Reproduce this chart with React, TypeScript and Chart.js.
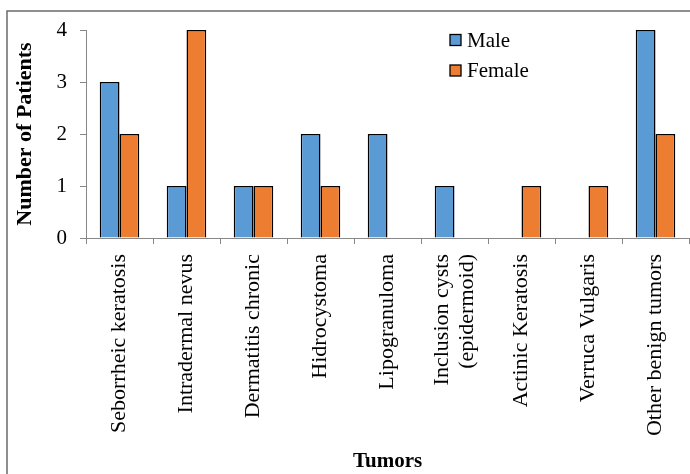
import React, { useEffect, useRef } from "react";
import { Chart, registerables } from "chart.js";

Chart.register(...registerables);

const categories: (string | string[])[] = [
  "Seborrheic keratosis",
  "Intradermal nevus",
  "Dermatitis chronic",
  "Hidrocystoma",
  "Lipogranuloma",
  ["Inclusion cysts", "(epidermoid)"],
  "Actinic Keratosis",
  "Verruca Vulgaris",
  "Other benign tumors",
];
const maleValues = [3, 1, 1, 2, 2, 1, 0, 0, 4];
const femaleValues = [2, 4, 1, 1, 0, 0, 1, 1, 2];
const seriesNames = ["Male", "Female"];
const yTicks = [0, 1, 2, 3, 4];

const FONT = "'Liberation Serif', 'Times New Roman', serif";
const BLUE = "#5B9BD5";
const ORANGE = "#ED7D31";
const TICK_LINE_HEIGHT = 1.15;
const TICK_SIZE = 22;

const framePlugin = {
  id: "frame",
  beforeDraw(chart: any) {
    const ctx = chart.ctx;
    ctx.save();
    ctx.strokeStyle = "#6b6b6b";
    ctx.lineWidth = 1.5;
    ctx.beginPath();
    ctx.moveTo(7, chart.height + 5);
    ctx.lineTo(7, 11);
    ctx.lineTo(chart.width + 5, 11);
    ctx.stroke();
    ctx.restore();
  },
};

// center multi-line rotated labels on their tick
const centerMultilinePlugin = {
  id: "centerMultiline",
  beforeDraw(chart: any) {
    const xs = chart.scales.x;
    const items = xs.getLabelItems(chart.chartArea);
    items.forEach((it: any) => {
      if (Array.isArray(it.label) && it.label.length > 1 && !it._shifted) {
        const lh = TICK_SIZE * TICK_LINE_HEIGHT;
        it.options.translation[0] -= ((it.label.length - 1) * lh) / 2;
        it._shifted = true;
      }
    });
  },
};

const legendPlugin = {
  id: "customLegend",
  afterDraw(chart: any) {
    const ctx = chart.ctx;
    ctx.save();
    const x = 450;
    const ys = [40, 70.5];
    chart.data.datasets.forEach((ds: any, i: number) => {
      const y = ys[i];
      ctx.fillStyle = ds.backgroundColor;
      ctx.fillRect(x, y - 5.5, 11, 11);
      ctx.strokeStyle = "#000";
      ctx.lineWidth = 1.3;
      ctx.strokeRect(x, y - 5.5, 11, 11);
      ctx.fillStyle = "#000";
      ctx.font = `21px ${FONT}`;
      ctx.textBaseline = "middle";
      ctx.textAlign = "left";
      ctx.fillText(ds.label, x + 17, y + 1);
    });
    ctx.restore();
  },
};

export default function App() {
  const ref = useRef<HTMLCanvasElement | null>(null);
  useEffect(() => {
    if (!ref.current) return;
    const chart = new Chart(ref.current, {
      type: "bar",
      data: {
        labels: categories,
        datasets: [
          {
            label: seriesNames[0],
            data: maleValues,
            backgroundColor: BLUE,
            borderColor: "#000",
            borderWidth: 1.5,
            categoryPercentage: 0.59,
            barPercentage: 1.0,
          },
          {
            label: seriesNames[1],
            data: femaleValues,
            backgroundColor: ORANGE,
            borderColor: "#000",
            borderWidth: 1.5,
            categoryPercentage: 0.59,
            barPercentage: 1.0,
          },
        ],
      },
      options: {
        animation: false,
        responsive: false,
        maintainAspectRatio: false,
        layout: { padding: { top: 30, right: 1, left: 0, bottom: 0 } },
        plugins: {
          legend: { display: false },
          tooltip: { enabled: false },
        },
        scales: {
          x: {
            grid: {
              offset: true,
              drawOnChartArea: false,
              drawTicks: true,
              tickLength: 6,
              color: "#888",
            },
            border: { color: "#888", width: 1 },
            ticks: {
              maxRotation: 90,
              minRotation: 90,
              autoSkip: false,
              color: "#000",
              padding: 10,
              font: { family: FONT, size: TICK_SIZE, lineHeight: TICK_LINE_HEIGHT },
            },
            title: {
              display: true,
              text: "Tumors",
              color: "#000",
              font: { family: FONT, size: 21, weight: "bold" },
              padding: { top: 0, bottom: 0 },
            },
            afterFit(scale: any) {
              scale.height = 236;
              scale.paddingLeft = 0;
              scale.paddingRight = 0;
            },
          },
          y: {
            min: 0,
            max: 4,
            afterBuildTicks(scale: any) {
              scale.ticks = yTicks.map((v) => ({ value: v }));
            },
            grid: {
              drawOnChartArea: false,
              drawTicks: true,
              tickLength: 6,
              color: "#888",
            },
            border: { color: "#888", width: 1 },
            ticks: {
              color: "#000",
              padding: 13,
              font: { family: FONT, size: 21 },
            },
            title: {
              display: true,
              text: "Number of Patients",
              color: "#000",
              font: { family: FONT, size: 22, weight: "bold" },
              padding: { top: 12, bottom: 0 },
            },
            afterFit(scale: any) {
              scale.width = 86;
              scale.paddingTop = 0;
              scale.paddingBottom = 0;
            },
          },
        },
      },
      plugins: [framePlugin, centerMultilinePlugin, legendPlugin],
    });
    return () => chart.destroy();
  }, []);
  return (
    <div style={{ position: "fixed", left: 0, top: 0, width: 690, height: 474, background: "#fff" }}>
      <canvas ref={ref} width={690} height={474} style={{ display: "block" }} />
    </div>
  );
}
